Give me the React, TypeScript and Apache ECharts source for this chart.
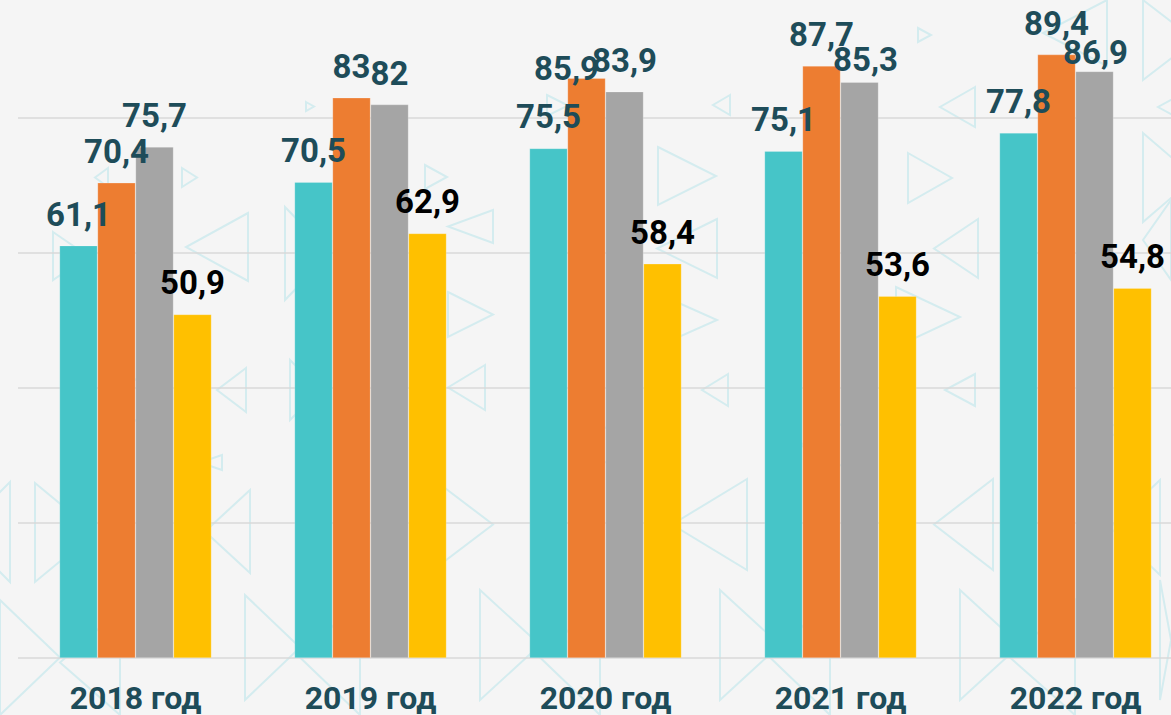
import React, { useEffect, useRef } from "react";
import * as echarts from "echarts";

const categories = ["2018 год", "2019 год", "2020 год", "2021 год", "2022 год"];
const seriesA = [61.1, 70.5, 75.5, 75.1, 77.8];
const seriesB = [70.4, 83, 85.9, 87.7, 89.4];
const seriesC = [75.7, 82, 83.9, 85.3, 86.9];
const seriesD = [50.9, 62.9, 58.4, 53.6, 54.8];
const yTicks = [0, 20, 40, 60, 80, 100];

const colors = ["#46c5c8", "#ed7d31", "#a5a5a5", "#ffc000"];
const labelColors = ["#1e4c59", "#1e4c59", "#1e4c59", "#000000"];

// manual label shifts (series index -> category index -> [dx, dy]), like in the source
const labelShift: Record<number, Record<number, [number, number]>> = {
  1: { 2: [-20, 22] },
  2: { 3: [6, 8.5], 4: [1, 13] },
};

// decorative background triangles: [baseX, tipX, yTop, yBottom]
const triangles: [number, number, number, number][] = [
  [108, 95, 168, 187], [182, 197, 168, 187], [53, 88, 232, 280], [248, 186, 213, 281],
  [306, 314, 102, 111], [425, 447, 165, 189], [285, 330, 207, 300], [493, 448, 210, 243],
  [547, 568, 95, 116], [658, 716, 147, 205], [730, 713, 95, 115], [975, 940, 87, 127],
  [908, 952, 153, 203], [918, 931, 28, 42], [1185, 1158, 92, 122], [1107, 1043, 0, 66],
  [1143, 1195, 0, 80], [1143, 1195, 133, 222], [246, 217, 368, 412], [485, 448, 365, 410],
  [728, 702, 374, 406], [975, 945, 374, 406], [448, 493, 292, 337], [717, 657, 219, 278],
  [978, 934, 219, 278], [896, 960, 287, 347], [672, 717, 300, 340], [1171, 1143, 200, 280],
  [10, -40, 482, 582], [35, 95, 483, 582], [250, 205, 490, 573], [433, 493, 479, 570],
  [747, 672, 479, 570], [993, 934, 479, 570], [1160, 1110, 480, 575], [222, 200, 455, 470],
  [0, 60, 600, 715], [120, 60, 610, 715], [245, 300, 595, 700], [360, 300, 600, 715],
  [480, 540, 590, 700], [600, 540, 600, 715], [720, 780, 590, 700], [830, 770, 600, 715],
  [960, 1020, 590, 700], [1075, 1010, 600, 715], [1160, 1171, 580, 700], [290, 320, 360, 420],
  [160, 110, 360, 440], [590, 640, 420, 470], [850, 800, 420, 470], [1080, 1120, 400, 460],
];

export default function App() {
  const ref = useRef<HTMLDivElement>(null);
  useEffect(() => {
    if (!ref.current) return;
    const chart = echarts.init(ref.current, null, { renderer: "svg" });
    const all = [seriesA, seriesB, seriesC, seriesD];
    const series = all.map((vals, si) => ({
      type: "bar" as const,
      barWidth: 38,
      barGap: "0%",
      z: 3,
      itemStyle: { color: colors[si], borderColor: "rgba(255,255,255,0.35)", borderWidth: 0.6 },
      label: {
        show: true,
        position: "top" as const,
        distance: 15,
        color: labelColors[si],
        fontFamily: "Roboto",
        fontWeight: "bold" as const,
        fontSize: 33,
        formatter: (p: any) => String(p.value).replace(".", ","),
      },
      data: vals.map((v, ci) => {
        const sh = labelShift[si] && labelShift[si][ci];
        return sh ? { value: v, label: { offset: sh } } : v;
      }),
    }));
    const graphics = triangles.map(([bx, tx, y0, y1]) => ({
      type: "polygon" as const,
      silent: true,
      z: -10,
      shape: { points: [[bx, y0], [tx, (y0 + y1) / 2], [bx, y1]] },
      style: { fill: "none", stroke: "#d4ecef", lineWidth: 2 },
    }));
    chart.setOption({
      animation: false,
      backgroundColor: "#f5f5f5",
      graphic: { elements: graphics },
      grid: {
        left: 18,
        right: -22,
        top: -17,
        bottom: 57,
        containLabel: false,
        outerBoundsMode: "none",
      },
      xAxis: {
        type: "category",
        data: categories,
        axisLine: { show: false },
        axisTick: { show: false },
        axisLabel: {
          color: "#1e4c59",
          fontFamily: "Roboto",
          fontWeight: "bold",
          fontSize: 32,
          margin: 24,
        },
      },
      yAxis: {
        type: "value",
        min: yTicks[0],
        max: yTicks[yTicks.length - 1],
        interval: 20,
        axisLabel: { show: false },
        axisLine: { show: false },
        axisTick: { show: false },
        splitLine: { lineStyle: { color: "#d9d9d9", width: 1.6 } },
      },
      series,
    });
    return () => chart.dispose();
  }, []);
  return (
    <div
      ref={ref}
      style={{ position: "fixed", left: 0, top: 0, width: 1171, height: 715 }}
    />
  );
}
